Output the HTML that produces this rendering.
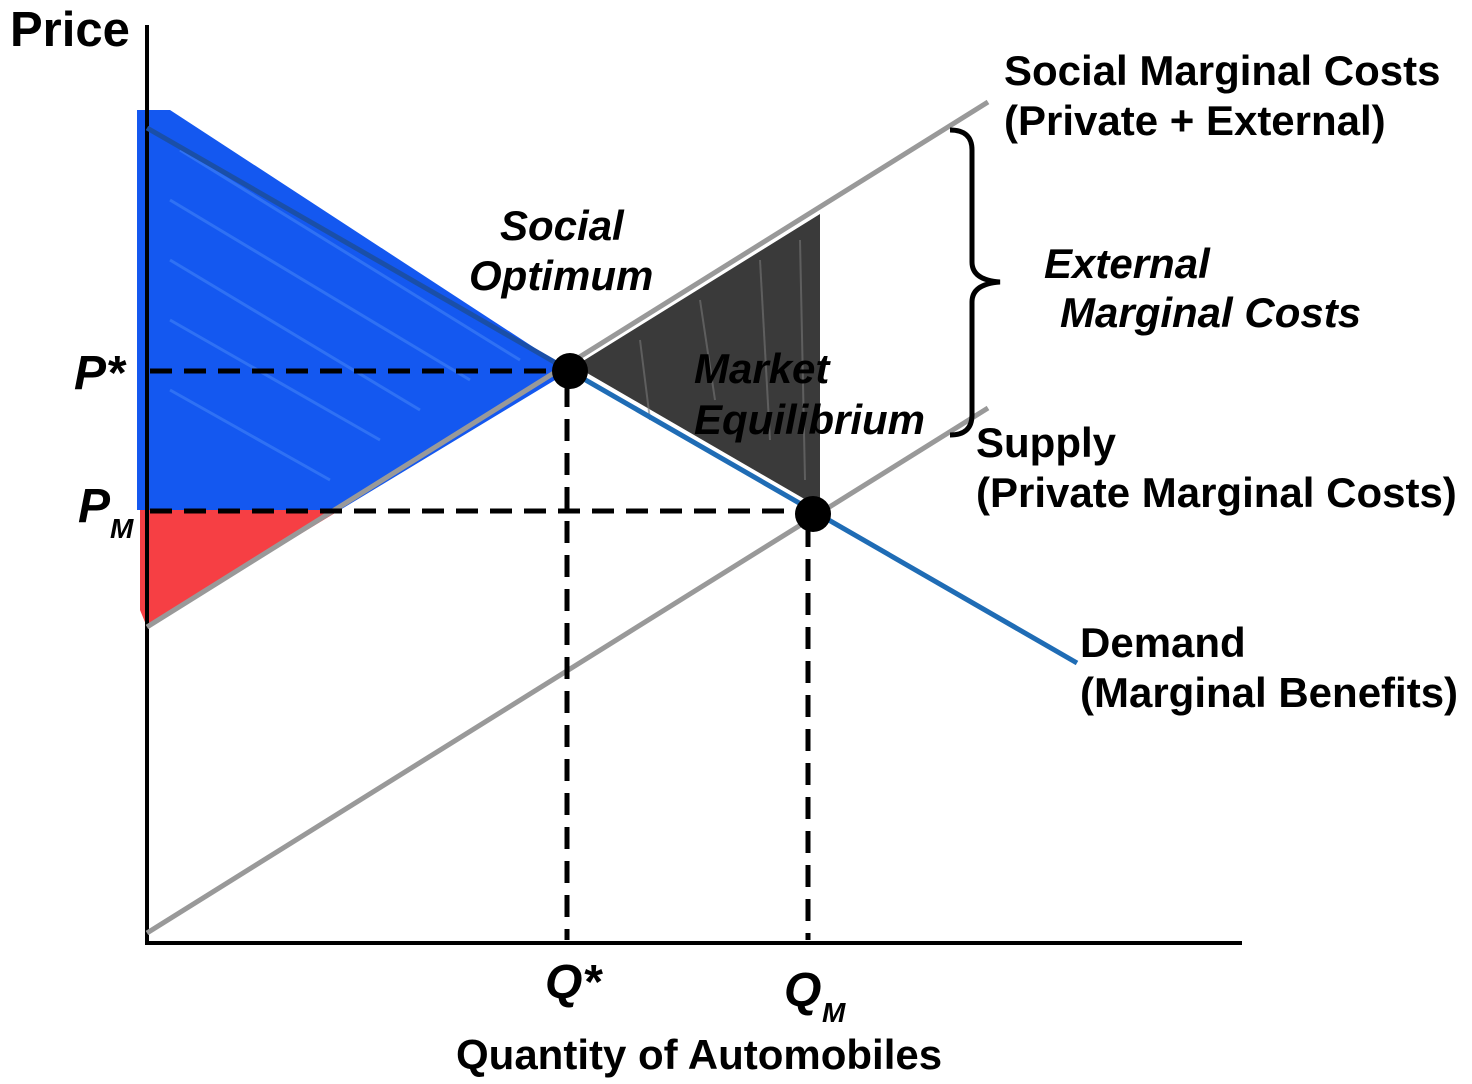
<!DOCTYPE html>
<html><head><meta charset="utf-8"><style>
html,body{margin:0;padding:0;background:#fff;}
svg{display:block;}
text{font-family:"Liberation Sans",Arial,sans-serif;font-weight:bold;fill:#000;}
</style></head><body>
<svg width="1472" height="1084" viewBox="0 0 1472 1084" xmlns="http://www.w3.org/2000/svg">
<polygon points="137,110 170,110 570,371 340,510 137,510" fill="#1458f0"/>
<g stroke="#4a8af8" stroke-width="3" opacity="0.5">
<line x1="180" y1="150" x2="520" y2="360"/>
<line x1="170" y1="200" x2="470" y2="380"/>
<line x1="170" y1="260" x2="420" y2="410"/>
<line x1="170" y1="320" x2="380" y2="440"/>
<line x1="170" y1="390" x2="330" y2="480"/>
</g>
<polygon points="140,510 340,510 147,627 140,610" fill="#f52a30" opacity="0.9"/>
<polygon points="575,366 820,214 820,508" fill="#3a3a3a"/>
<g stroke="#777" stroke-width="2" opacity="0.6">
<line x1="640" y1="340" x2="650" y2="420"/>
<line x1="700" y1="300" x2="715" y2="400"/>
<line x1="760" y1="260" x2="770" y2="440"/>
<line x1="800" y1="240" x2="805" y2="480"/>
</g>
<line x1="147" y1="25" x2="147" y2="945" stroke="#000" stroke-width="4"/>
<line x1="145" y1="943" x2="1242" y2="943" stroke="#000" stroke-width="4"/>
<line x1="147" y1="627" x2="988" y2="102" stroke="#999" stroke-width="5"/>
<line x1="147" y1="933" x2="988" y2="408" stroke="#999" stroke-width="5"/>
<line x1="147" y1="128" x2="570" y2="371" stroke="#1a4fa8" stroke-width="5"/>
<line x1="570" y1="371" x2="1077" y2="663" stroke="#1f6cb5" stroke-width="5"/>
<g stroke="#000" stroke-width="5" stroke-dasharray="22,12">
<line x1="150" y1="371" x2="560" y2="371"/>
<line x1="150" y1="511" x2="805" y2="511"/>
<line x1="567" y1="385" x2="567" y2="940"/>
<line x1="808" y1="525" x2="808" y2="940"/>
</g>
<circle cx="570" cy="371" r="18" fill="#000"/>
<circle cx="813" cy="514" r="18" fill="#000"/>
<path d="M950,130 Q972,130 972,150 L972,262 Q972,280 1000,282 Q972,284 972,302 L972,415 Q972,435 950,435" fill="none" stroke="#000" stroke-width="5"/>
<text x="10" y="46" font-size="49">Price</text>
<text x="74" y="389" font-size="48" font-style="italic">P*</text>
<text x="78" y="522" font-size="48" font-style="italic">P</text>
<text x="110" y="538" font-size="28" font-style="italic">M</text>
<text x="545" y="998" font-size="48" font-style="italic">Q*</text>
<text x="784" y="1006" font-size="48" font-style="italic">Q</text>
<text x="822" y="1022" font-size="28" font-style="italic">M</text>
<text x="456" y="1069" font-size="42">Quantity of Automobiles</text>
<text x="500" y="240" font-size="42" font-style="italic">Social</text>
<text x="469" y="290" font-size="42" font-style="italic">Optimum</text>
<text x="694" y="383" font-size="42" font-style="italic">Market</text>
<text x="694" y="434" font-size="42" font-style="italic">Equilibrium</text>
<text x="1004" y="85" font-size="42">Social Marginal Costs</text>
<text x="1004" y="135" font-size="42">(Private + External)</text>
<text x="1044" y="278" font-size="42" font-style="italic">External</text>
<text x="1060" y="327" font-size="42" font-style="italic">Marginal Costs</text>
<text x="976" y="457" font-size="42">Supply</text>
<text x="976" y="507" font-size="42">(Private Marginal Costs)</text>
<text x="1080" y="657" font-size="42">Demand</text>
<text x="1080" y="707" font-size="42">(Marginal Benefits)</text>
</svg>
</body></html>
